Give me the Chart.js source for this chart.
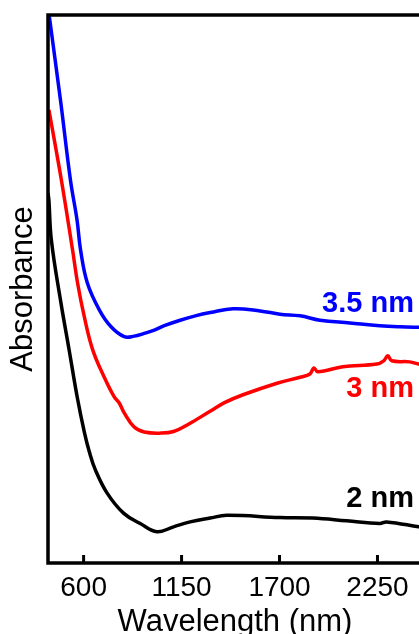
<!DOCTYPE html>
<html>
<head>
<meta charset="utf-8">
<script src="https://cdn.jsdelivr.net/npm/chart.js@4.4.1/dist/chart.umd.min.js"></script>
<style>
  html, body { margin: 0; padding: 0; background: #fff; overflow: hidden; }
  #wrap { position: relative; width: 430px; height: 634px; }
</style>
</head>
<body>
<div id="wrap"><canvas id="chart"></canvas></div>
<script>
// absorption spectra, wavelength in nm, absorbance in arbitrary units
const wl35 = [400, 408, 470, 526, 563, 583, 621, 688, 754, 828, 884, 940, 997, 1053, 1142, 1227, 1311, 1439, 1591, 1703, 1815, 1927, 2095, 2263, 2375, 2481, 2500];
const abs35 = [1.02, 0.996, 0.845, 0.699, 0.626, 0.571, 0.511, 0.462, 0.431, 0.413, 0.414, 0.419, 0.425, 0.433, 0.443, 0.451, 0.457, 0.464, 0.460, 0.454, 0.451, 0.443, 0.438, 0.433, 0.431, 0.430, 0.430];

const wl3 = [405, 475, 538, 566, 604, 651, 716, 772, 800, 828, 884, 940, 1034, 1105, 1198, 1310, 1394, 1495, 1686, 1815, 1871, 1893, 1915, 2055, 2246, 2285, 2308, 2330, 2431, 2481, 2500];
const abs3 = [0.827, 0.699, 0.571, 0.511, 0.449, 0.389, 0.339, 0.303, 0.292, 0.274, 0.248, 0.239, 0.237, 0.240, 0.255, 0.277, 0.293, 0.307, 0.328, 0.339, 0.345, 0.356, 0.349, 0.358, 0.363, 0.369, 0.378, 0.369, 0.367, 0.363, 0.362];

const wl2 = [400, 405, 419, 472, 517, 565, 604, 632, 666, 733, 824, 918, 1012, 1105, 1198, 1310, 1404, 1703, 1887, 2077, 2263, 2301, 2481, 2500];
const abs2 = [0.675, 0.662, 0.589, 0.476, 0.392, 0.301, 0.239, 0.203, 0.170, 0.127, 0.091, 0.072, 0.057, 0.066, 0.075, 0.082, 0.087, 0.083, 0.082, 0.077, 0.072, 0.075, 0.066, 0.065];

const sizeLabels = ['3.5 nm', '3 nm', '2 nm'];
const xTicks = [600, 1150, 1700, 2250];

const FONT = '"Liberation Sans", Arial, sans-serif';
Chart.defaults.font.family = FONT;
Chart.defaults.color = '#000';

function toPoints(xs, ys) {
    return xs.map((x, i) => ({ x: x, y: ys[i] }));
}

// box frame, inward ticks on the bottom axis and the size labels
const framePlugin = {
    id: 'frame',
    afterDatasetsDraw(chart, args, opts) {
        const { ctx, chartArea: a, scales: { x, y } } = chart;
        ctx.save();
        ctx.strokeStyle = '#000';
        ctx.lineWidth = 3.5;
        ctx.strokeRect(a.left, a.top, a.right - a.left, a.bottom - a.top);

        ctx.lineWidth = 3;
        ctx.beginPath();
        xTicks.forEach(v => {
            const px = x.getPixelForValue(v);
            ctx.moveTo(px, a.bottom);
            ctx.lineTo(px, a.bottom - 8);
        });
        ctx.stroke();

        ctx.font = 'bold 29px ' + FONT;
        ctx.textAlign = 'right';
        ctx.textBaseline = 'middle';
        opts.labels.forEach(l => {
            ctx.fillStyle = l.color;
            ctx.fillText(l.text, x.getPixelForValue(l.x), y.getPixelForValue(l.y));
        });
        ctx.restore();
    }
};

new Chart(document.getElementById('chart'), {
    type: 'line',
    data: {
        datasets: [
            { label: sizeLabels[0], data: toPoints(wl35, abs35), borderColor: '#0000ff' },
            { label: sizeLabels[1], data: toPoints(wl3, abs3), borderColor: '#ff0000' },
            { label: sizeLabels[2], data: toPoints(wl2, abs2), borderColor: '#000000' }
        ]
    },
    options: {
        responsive: true,
        maintainAspectRatio: false,
        animation: false,
        devicePixelRatio: 1,
        layout: { padding: { top: 15, right: 8, left: 0, bottom: 0 } },
        elements: {
            point: { radius: 0 },
            line: { borderWidth: 3.5, tension: 0.4, borderJoinStyle: 'round' }
        },
        plugins: {
            legend: { display: false },
            tooltip: { enabled: false },
            frame: {
                labels: [
                    { text: sizeLabels[0], color: '#0000ff', x: 2455, y: 0.472 },
                    { text: sizeLabels[1], color: '#ff0000', x: 2455, y: 0.317 },
                    { text: sizeLabels[2], color: '#000000', x: 2455, y: 0.116 }
                ]
            }
        },
        scales: {
            x: {
                type: 'linear',
                min: 400,
                max: 2500,
                afterBuildTicks: s => { s.ticks = xTicks.map(v => ({ value: v })); },
                afterFit: s => { s.height = 71; },
                grid: { display: false, drawTicks: false },
                border: { display: false },
                ticks: {
                    color: '#000',
                    font: { size: 28 },
                    padding: 8,
                    maxRotation: 0,
                    autoSkip: false,
                    callback: v => String(v)
                },
                title: {
                    display: true,
                    text: 'Wavelength (nm)',
                    color: '#000',
                    font: { size: 31, lineHeight: 0.75 },
                    padding: { top: 0, bottom: 0 }
                }
            },
            y: {
                min: 0,
                max: 1,
                afterFit: s => { s.width = 48; },
                grid: { display: false, drawTicks: false },
                border: { display: false },
                ticks: { display: false },
                title: {
                    display: true,
                    text: 'Absorbance',
                    color: '#000',
                    font: { size: 31, lineHeight: 1 },
                    padding: { top: 8, bottom: 0 }
                }
            }
        }
    },
    plugins: [framePlugin]
});
</script>
</body>
</html>
